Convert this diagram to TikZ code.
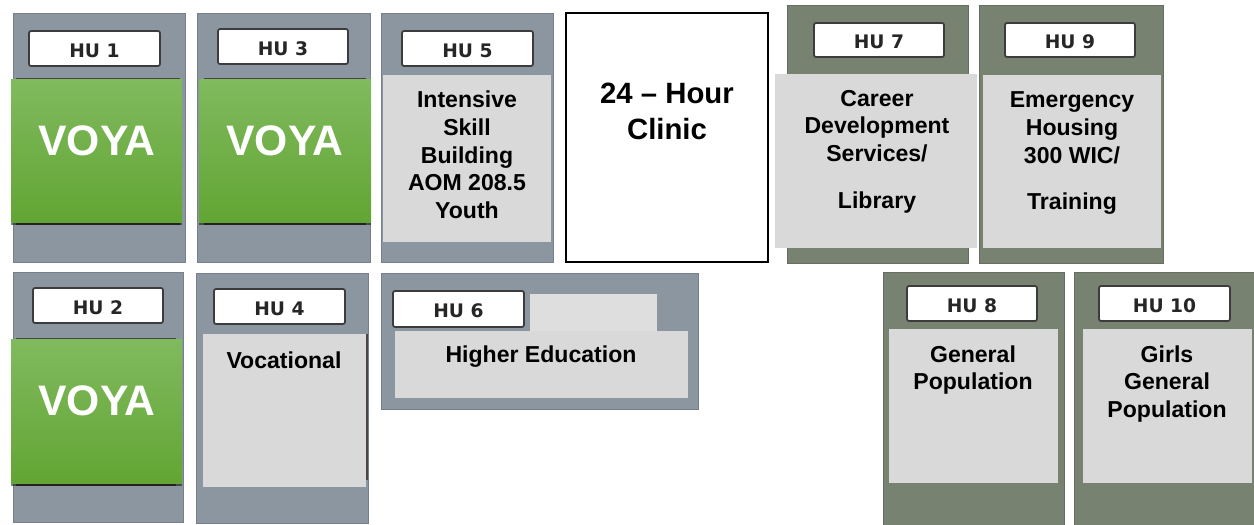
\documentclass[tikz,border=0pt]{standalone}
\usepackage{fontspec}
\setmainfont{Liberation Sans}
\newfontfamily\lblfont{DejaVu Sans Bold}
\usetikzlibrary{fit,shadows}
\definecolor{bluegray}{RGB}{140,150,161}
\definecolor{greengray}{RGB}{120,130,112}
\definecolor{innergray}{RGB}{217,217,217}
\definecolor{tabgray}{RGB}{222,222,222}
\definecolor{voyatop}{RGB}{128,186,94}
\definecolor{voyabot}{RGB}{99,165,52}
\definecolor{lblborder}{RGB}{60,60,60}
\definecolor{darkedge}{RGB}{75,68,68}
\tikzset{
  box/.style={inner sep=0pt, outer sep=0pt},
  outerb/.style={box, fill=bluegray, draw=bluegray!85!black, line width=0.4pt},
  outerg/.style={box, fill=greengray, draw=greengray!85!black, line width=0.4pt},
  inner/.style={box, fill=innergray},
  tabbox/.style={box, fill=tabgray},
  lbl/.style={box, fill=white, draw=lblborder, line width=1.3pt, rounded corners=1.5pt},
  lbltxt/.style={inner sep=0pt, yshift=-1.5pt, font=\lblfont\fontsize{14}{16}\selectfont, text=black!85},
  voya/.style={box, top color=voyatop, bottom color=voyabot,
    drop shadow={shadow xshift=0pt, shadow yshift=-2pt, opacity=0.5, fill=black}},
  edge/.style={box, fill=darkedge},
  voyatxt/.style={text=white, font=\fontsize{32}{36}\selectfont\bfseries},
  bodytxt/.style={align=center, inner sep=0pt, font=\fontsize{17.3}{20.8}\selectfont\bfseries},
  clinictxt/.style={align=center, inner sep=0pt, font=\fontsize{22}{27}\selectfont\bfseries},
}
\begin{document}
\begin{tikzpicture}[x=0.75pt,y=-0.75pt]
\useasboundingbox (0,0) rectangle (1254,525);
% ---------- top row ----------
% HU 1
\node[outerb, fit={(13,13)(185,262)}] (hu1) {};
\node[lbl, fit={(29,31)(160,66)}] (hu1l) {};
\node[lbltxt] (hu1lt) at (hu1l.center) {HU 1};
\node[edge, fit={(16,78)(180,225)}] (hu1e) {};
\node[voya, fit={(11,79)(182,222)}] (hu1g) {};
\node[voyatxt] (hu1t) at (97,141) {VOYA};
% HU 3
\node[outerb, fit={(197,13)(370,262)}] (hu3) {};
\node[lbl, fit={(218,29)(348,64)}] (hu3l) {};
\node[lbltxt] (hu3lt) at (hu3l.center) {HU 3};
\node[edge, fit={(204,78)(366,225)}] (hu3e) {};
\node[voya, fit={(199,79)(371,222)}] (hu3g) {};
\node[voyatxt] (hu3t) at (285,141) {VOYA};
% HU 5
\node[outerb, fit={(381,13)(553,262)}] (hu5) {};
\node[lbl, fit={(402,31)(533,66)}] (hu5l) {};
\node[lbltxt] (hu5lt) at (hu5l.center) {HU 5};
\node[inner, fit={(383,75)(551,242)}] (hu5i) {};
\node[bodytxt] (hu5t) at (467,155) {Intensive\\Skill\\Building\\AOM 208.5\\Youth};
% Clinic
\node[box, fill=white, draw=black, line width=0.9pt, fit={(566,13)(768,262)}] (clinic) {};
\node[clinictxt] (clinict) at (667,111) {24 -- Hour\\Clinic};
% HU 7
\node[outerg, fit={(787,5)(968,263)}] (hu7) {};
\node[lbl, fit={(814,23)(944,57)}] (hu7l) {};
\node[lbltxt] (hu7lt) at (hu7l.center) {HU 7};
\node[inner, fit={(775,74)(977,248)}] (hu7i) {};
\node[bodytxt] (hu7t) at (877,126) {Career\\Development\\Services/};
\node[bodytxt] (hu7t2) at (877,203) {Library};
% HU 9
\node[outerg, fit={(979,5)(1163,263)}] (hu9) {};
\node[lbl, fit={(1005,23)(1135,57)}] (hu9l) {};
\node[lbltxt] (hu9lt) at (hu9l.center) {HU 9};
\node[inner, fit={(983,75)(1161,248)}] (hu9i) {};
\node[bodytxt] (hu9t) at (1072,128) {Emergency\\Housing\\300 WIC/};
\node[bodytxt] (hu9t2) at (1072,204) {Training};
% ---------- bottom row ----------
% HU 2
\node[outerb, fit={(13,272)(183,522)}] (hu2) {};
\node[lbl, fit={(33,288)(163,323)}] (hu2l) {};
\node[lbltxt] (hu2lt) at (hu2l.center) {HU 2};
\node[edge, fit={(16,338)(176,486)}] (hu2e) {};
\node[voya, fit={(11,339)(182,483)}] (hu2g) {};
\node[voyatxt] (hu2t) at (97,401) {VOYA};
% HU 4
\node[outerb, fit={(196,273)(368,523)}] (hu4) {};
\node[lbl, fit={(214,289)(345,324)}] (hu4l) {};
\node[lbltxt] (hu4lt) at (hu4l.center) {HU 4};
\node[edge, fit={(206,334)(368,480)}] (hu4e) {};
\node[inner, fit={(203,334)(366,487)}] (hu4i) {};
\node[bodytxt] (hu4t) at (284,360) {Vocational};
% HU 6
\node[outerb, fit={(381,273)(698,409)}] (hu6) {};
\node[lbl, fit={(393,291)(524,327)}] (hu6l) {};
\node[lbltxt] (hu6lt) at (hu6l.center) {HU 6};
\node[tabbox, fit={(530,294)(657,332)}] (hu6tab) {};
\node[inner, fit={(395,331)(688,398)}] (hu6i) {};
\node[bodytxt] (hu6t) at (541,357) {Higher Education};
% HU 8
\node[outerg, fit={(883,272)(1064,527)}] (hu8) {};
\node[lbl, fit={(907,286)(1037,321)}] (hu8l) {};
\node[lbltxt] (hu8lt) at (hu8l.center) {HU 8};
\node[inner, fit={(889,329)(1058,483)}] (hu8i) {};
\node[bodytxt] (hu8t) at (973,370) {General\\Population};
% HU 10
\node[outerg, fit={(1074,272)(1254,527)}] (hu10) {};
\node[lbl, fit={(1099,286)(1230,321)}] (hu10l) {};
\node[lbltxt] (hu10lt) at (hu10l.center) {HU 10};
\node[inner, fit={(1083,329)(1252,483)}] (hu10i) {};
\node[bodytxt] (hu10t) at (1167,384) {Girls\\General\\Population};
\end{tikzpicture}
\end{document}
